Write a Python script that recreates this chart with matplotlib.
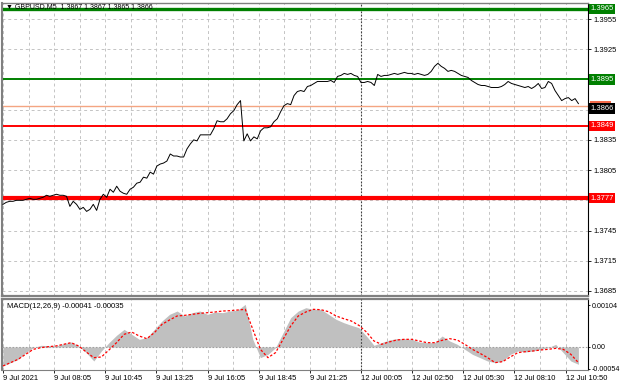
import numpy as np
import matplotlib
matplotlib.use("Agg")
import matplotlib.pyplot as plt
import matplotlib.transforms as mtrans
from matplotlib.patches import Rectangle

plt.rcParams['font.family'] = ['Liberation Sans', 'DejaVu Sans']

# GBPUSD M5 closes, sampled every 2 bars
price = [1.3771, 1.3773, 1.3774, 1.3774, 1.3775, 1.3775, 1.3775, 1.3776, 1.3777, 1.3776,
         1.3776, 1.3777, 1.3778, 1.3780, 1.3779, 1.3780, 1.3781, 1.3780, 1.3780, 1.3779,
         1.3769, 1.3774, 1.3771, 1.3766, 1.3768, 1.3764, 1.3766, 1.3771, 1.3765, 1.3776,
         1.3781, 1.3778, 1.3786, 1.3783, 1.3789, 1.3784, 1.3782, 1.3781, 1.3786, 1.3788,
         1.3792, 1.3793, 1.3798, 1.3797,
         1.3803, 1.3801, 1.3809, 1.3811, 1.3812, 1.3814, 1.3821, 1.3819, 1.3819, 1.3818,
         1.3818, 1.3826, 1.3831, 1.3835, 1.3834, 1.3840, 1.3840, 1.3840, 1.3840, 1.3846,
         1.3854, 1.3853, 1.3853, 1.3856, 1.3861, 1.3864, 1.3870, 1.3874, 1.3834, 1.3841,
         1.3834, 1.3838, 1.3836, 1.3844, 1.3847, 1.3847, 1.3848, 1.3853, 1.3856, 1.3863,
         1.3869, 1.3871, 1.3870, 1.3879, 1.3883, 1.3884,
         1.3883, 1.3888, 1.3889, 1.3891, 1.3893, 1.3893, 1.3893, 1.3893, 1.3894, 1.3892,
         1.3898, 1.3899, 1.3901, 1.3900, 1.3901, 1.3899, 1.3898, 1.3892, 1.3892, 1.3893,
         1.3892, 1.3889, 1.3900, 1.3898, 1.3899, 1.3899, 1.3900, 1.3901, 1.3900, 1.3901,
         1.3902, 1.3901, 1.3901, 1.3900, 1.3901, 1.3900, 1.3899, 1.3900, 1.3903, 1.3908,
         1.3911, 1.3908, 1.3906, 1.3903,
         1.3904, 1.3903, 1.3901, 1.3899, 1.3898, 1.3897, 1.3894, 1.3892, 1.3890, 1.3889,
         1.3889, 1.3888, 1.3887, 1.3887, 1.3887, 1.3888, 1.3890, 1.3893, 1.3891, 1.3890,
         1.3889, 1.3888, 1.3887, 1.3888, 1.3886, 1.3888, 1.3891, 1.3886, 1.3887, 1.3893,
         1.3891, 1.3884, 1.3879, 1.3874, 1.3876, 1.3877, 1.3874, 1.3876, 1.3871]

# MACD histogram and signal, sampled every ~4.8 bars
macd_hist = [-0.000470, -0.000388, -0.000305, -0.000140, -0.000017, 0.000041, 0.000033, 0.000025,
             0.000083, 0.000124, 0.000025, -0.000140, -0.000347, -0.000099, 0.000107, 0.000289,
             0.000437, 0.000314, 0.000190, 0.000231, 0.000437, 0.000644, 0.000809, 0.000891,
             0.000768, 0.000850, 0.000891, 0.000809, 0.000867, 0.000850, 0.000891, 0.000916,
             0.001057, 0.000190, -0.000264, -0.000182, -0.000017, 0.000355, 0.000726, 0.000891,
             0.000974, 0.000933, 0.000933, 0.000809, 0.000685, 0.000603, 0.000537, 0.000479,
             0.000272, 0.000041, 0.000107, 0.000173, 0.000206, 0.000206, 0.000190, 0.000124,
             0.000107, 0.000107, 0.000272, 0.000149, 0.000066, -0.000058, -0.000182, -0.000264,
             -0.000347, -0.000388, -0.000347, -0.000182, -0.000099, -0.000124, -0.000099, -0.000058,
             -0.000017, 0.000066, -0.000140, -0.000347, -0.000429]
macd_signal = [-0.000470, -0.000388, -0.000305, -0.000182, -0.000058, -0.000017, 0.000008, 0.000025,
               0.000066, 0.000107, 0.000025, -0.000124, -0.000264, -0.000248, -0.000074, 0.000107,
               0.000314, 0.000371, 0.000272, 0.000206, 0.000355, 0.000561, 0.000669, 0.000768,
               0.000784, 0.000809, 0.000834, 0.000850, 0.000867, 0.000891, 0.000900, 0.000916,
               0.000933, 0.000437, -0.000058, -0.000264, -0.000140, 0.000190, 0.000520, 0.000768,
               0.000867, 0.000933, 0.000924, 0.000875, 0.000768, 0.000702, 0.000644, 0.000537,
               0.000371, 0.000149, 0.000066, 0.000124, 0.000173, 0.000190, 0.000190, 0.000149,
               0.000107, 0.000107, 0.000165, 0.000206, 0.000173, 0.000066, -0.000058, -0.000157,
               -0.000264, -0.000388, -0.000363, -0.000248, -0.000140, -0.000116, -0.000099, -0.000074,
               -0.000058, -0.000033, -0.000058, -0.000182, -0.000388]

time_labels = ["9 Jul 2021", "9 Jul 08:05", "9 Jul 10:45", "9 Jul 13:25", "9 Jul 16:05",
               "9 Jul 18:45", "9 Jul 21:25", "12 Jul 00:05", "12 Jul 02:50", "12 Jul 05:30",
               "12 Jul 08:10", "12 Jul 10:50"]
levels = [1.3965, 1.3895, 1.3849, 1.3777]
level_colors = ["#008000", "#008000", "#ff0000", "#ff0000"]
level_widths = [2.4, 1.4, 1.4, 3.0]
ask_price = 1.3869
last_price = 1.3866
# scale labels left visible (the others sit under the level boxes)
price_ticks = [1.3955, 1.3925, 1.3835, 1.3805, 1.3745, 1.3715, 1.3685]
grid_prices = [1.3955, 1.3925, 1.3895, 1.3865, 1.3835, 1.3805, 1.3775, 1.3745, 1.3715, 1.3685]

n_bars = 360
xp = np.linspace(0, n_bars, len(price))
xm = np.linspace(0, n_bars, len(macd_hist))
tick_bars = np.arange(len(time_labels)) * 32
grid_bars = np.arange(0, 368, 16)
day_bar = 224

fig = plt.figure(figsize=(6.2, 3.88), dpi=100)
W, H = 620, 388
ax1 = fig.add_axes([2 / W, 1 - 296 / H, 586 / W, 293 / H])
ax2 = fig.add_axes([2 / W, 1 - 370 / H, 586 / W, 71 / H])
xlim = (-0.6, 366)
gridkw = dict(color="#c4c4c4", lw=0.7, ls=(0, (3, 3)), zorder=0)
fs = 5.5

# price panel
ax1.set_xlim(*xlim)
ax1.set_ylim(1.36800, 1.39709)
for b in grid_bars:
    ax1.axvline(b, **gridkw)
for t in grid_prices:
    ax1.axhline(t, **gridkw)
ax1.axvline(day_bar, color="#404040", lw=0.8, ls=(0, (1.5, 1.5)), zorder=1)
for lv, c, w in zip(levels, level_colors, level_widths):
    ax1.axhline(lv, color=c, lw=w, zorder=2)
ax1.axhline(ask_price, color="#f4a582", lw=1.0, zorder=2)
ax1.plot(xp, price, color="black", lw=0.7, zorder=3)

ax1.yaxis.tick_right()
ax1.set_yticks(price_ticks)
ax1.set_yticklabels([f"{t:.4f}" for t in price_ticks], fontsize=fs)
ax1.tick_params(axis="y", length=2, pad=2, width=0.6)
ax1.set_xticks([])
tr = mtrans.blended_transform_factory(ax1.transAxes, ax1.transData)
# ask-price tag peeking out above the last-price tag
ax1.add_patch(Rectangle((1.003, ask_price - 0.0002), 0.036, 0.0007, transform=tr,
                        fc="#f46a4a", ec="none", clip_on=False, zorder=4))
for lv, c in zip(levels, level_colors):
    ax1.text(1.004, lv, f"{lv:.4f}", transform=tr, fontsize=fs, color="white", va="center", ha="left",
             bbox=dict(fc=c, ec="none", pad=1.2), zorder=6)
ax1.text(1.004, last_price, f"{last_price:.4f}", transform=tr, fontsize=fs, color="white",
         va="center", ha="left", bbox=dict(fc="black", ec="none", pad=1.2), zorder=7)
ax1.text(0.006, 0.987, "\u25bc GBPUSD,M5  1.3867 1.3867 1.3865 1.3866", transform=ax1.transAxes,
         fontsize=5, va="center", ha="left", color="black", zorder=6)

# MACD panel
ax2.set_xlim(*xlim)
ax2.set_ylim(-0.000570, 0.001189)
for b in grid_bars:
    ax2.axvline(b, **gridkw)
ax2.axhline(0, color="#a0a0a0", lw=0.8, ls=(0, (1.5, 1.5)), zorder=3)
ax2.axvline(day_bar, color="#404040", lw=0.8, ls=(0, (1.5, 1.5)), zorder=4)
ax2.fill_between(xm, 0, macd_hist, color="#c0c0c0", lw=0, zorder=2)
ax2.plot(xm, macd_signal, color="#ff0000", lw=0.9, ls=(0, (2, 1.5)), zorder=5)
ax2.yaxis.tick_right()
ax2.set_yticks([0.00104, 0.0, -0.00054])
ax2.set_yticklabels(["0.00104", "0.00", "-0.00054"], fontsize=5.1)
ax2.tick_params(axis="y", length=1.5, pad=1, width=0.6)
ax2.set_xticks(tick_bars)
ax2.set_xticklabels(time_labels, fontsize=fs, ha="left")
ax2.tick_params(axis="x", length=2, pad=1.5, width=0.6)
ax2.text(0.008, 0.9, "MACD(12,26,9) -0.00041 -0.00035", transform=ax2.transAxes,
         fontsize=fs, va="center", ha="left")

for ax in (ax1, ax2):
    ax.spines["left"].set_color("#808080")
    ax.spines["left"].set_linewidth(1.5)
    ax.spines["right"].set_color("black")
    ax.spines["right"].set_linewidth(0.8)
    ax.spines["top"].set_color("#808080")
    ax.spines["bottom"].set_color("#808080")
ax1.spines["bottom"].set_linewidth(1.6)
ax2.spines["top"].set_linewidth(1.6)
ax1.spines["top"].set_linewidth(1.0)

fig.savefig("out.png", dpi=100, facecolor="white")
